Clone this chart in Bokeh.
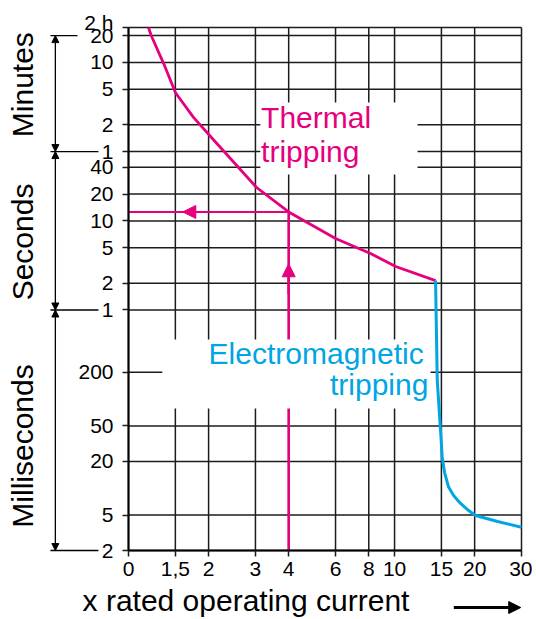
import math
from bokeh.plotting import figure
from bokeh.models import Range1d, FixedTicker, Label, Arrow, NormalHead, BoxAnnotation
from bokeh.embed import file_html
from bokeh.resources import INLINE

# ---------------- data ----------------
X_TICKS = [1, 1.5, 2, 3, 4, 6, 8, 10, 15, 20, 30]
X_TICK_LABELS = ["0", "1,5", "2", "3", "4", "6", "8", "10", "15", "20", "30"]

# tripping time in seconds
Y_TICKS = [0.002, 0.005, 0.02, 0.05, 0.2, 1, 2, 5, 10, 20, 40, 60, 120, 300, 600, 1200]
Y_TICK_LABELS = ["2", "5", "20", "50", "200", "1", "2", "5", "10", "20", "40",
                 "1", "2", "5", "10", "20"]
Y_TOP = 1480          # axis break, labelled "2 h"
Y_TOP_LABEL = "2 h"

THERMAL_X = [1.189, 1.217, 1.357, 1.502, 1.755, 2.05, 3.03, 4.0, 6.0, 8.12, 10.1, 14.26]
THERMAL_T = [1480, 1203, 579, 274, 145, 86.3, 23.7, 12.6, 6.34, 4.31, 3.08, 2.14]

ELECTRO_X = [14.26, 14.47, 14.89, 15.11, 15.42, 15.96, 16.67, 17.7, 18.98, 20.16, 24.39, 30]
ELECTRO_T = [2.14, 0.162, 0.0444, 0.0217, 0.0150, 0.0103, 0.00828, 0.00674, 0.00562,
             0.00494, 0.00423, 0.00365]

READ_X = 4        # example reading: 4 x rated current
READ_T = 12.6     # -> thermal tripping time

MAGENTA = "#E5007E"
BLUE = "#00A5E3"
GRID = "#1c1c1c"
FONT = "Liberation Sans"

# ---------------- layout (canvas pixels) ----------------
W, H = 532, 618
GRID_LEFT, GRID_RIGHT, GRID_TOP, GRID_BOTTOM = 128, 521, 27, 550
X_MIN, X_MAX = X_TICKS[0], X_TICKS[-1]
Y_MIN = Y_TICKS[0]
ppd_x = (GRID_RIGHT - GRID_LEFT) / math.log10(X_MAX / X_MIN)
ppd_y = (GRID_BOTTOM - GRID_TOP) / math.log10(Y_TOP / Y_MIN)
x_start = X_MIN * 10 ** (-GRID_LEFT / ppd_x)
x_end = X_MAX * 10 ** ((W - GRID_RIGHT) / ppd_x)
y_start = Y_MIN * 10 ** (-(H - GRID_BOTTOM) / ppd_y)
y_end = Y_TOP * 10 ** (GRID_TOP / ppd_y)

p = figure(width=W, height=H, x_axis_type="log", y_axis_type="log",
           x_range=Range1d(x_start, x_end), y_range=Range1d(y_start, y_end),
           output_backend="svg", toolbar_location=None,
           min_border=0, min_border_left=0, min_border_right=0,
           min_border_top=0, min_border_bottom=0)
p.background_fill_color = "white"
p.border_fill_color = "white"
p.outline_line_color = None
p.xgrid.visible = False
p.ygrid.visible = False

# grid drawn from the tick values
y_lines = Y_TICKS + [Y_TOP]
p.segment(x0=X_TICKS, y0=[Y_MIN] * len(X_TICKS), x1=X_TICKS, y1=[Y_TOP] * len(X_TICKS),
          line_color=GRID, line_width=1.5)
p.segment(x0=[X_MIN] * len(y_lines), y0=y_lines, x1=[X_MAX] * len(y_lines), y1=y_lines,
          line_color=GRID, line_width=1.5)

# axes fixed at the grid edges
p.xaxis.fixed_location = Y_MIN
p.xaxis.bounds = (X_MIN, X_MAX)
p.yaxis.fixed_location = X_MIN
p.yaxis.bounds = (Y_MIN, Y_TOP)
p.xaxis.ticker = FixedTicker(ticks=X_TICKS)
p.xaxis.major_label_overrides = dict(zip(X_TICKS, X_TICK_LABELS))
y_over = dict(zip(Y_TICKS, Y_TICK_LABELS))
y_over[Y_TOP] = ""
p.yaxis.ticker = FixedTicker(ticks=y_lines)
p.yaxis.major_label_overrides = y_over

for ax in (p.xaxis[0], p.yaxis[0]):
    ax.major_tick_out = 6
    ax.major_tick_in = 0
    ax.minor_tick_out = 0
    ax.minor_tick_in = 0
    ax.major_tick_line_color = GRID
    ax.major_tick_line_width = 1.5
    ax.axis_line_color = "black"
    ax.axis_line_width = 2
    ax.major_label_text_font = FONT
    ax.major_label_text_font_size = "21px"
    ax.major_label_text_color = "black"
p.xaxis.major_label_standoff = 5
p.yaxis.major_label_standoff = 9

# curves
p.line(THERMAL_X, THERMAL_T, line_color=MAGENTA, line_width=2.8)
p.line(ELECTRO_X, ELECTRO_T, line_color=BLUE, line_width=3)

# reading lines
p.line([READ_X, READ_X], [Y_MIN, READ_T], line_color=MAGENTA, line_width=2.6)
p.line([X_MIN, READ_X], [READ_T, READ_T], line_color=MAGENTA, line_width=2)
p.add_layout(Arrow(end=NormalHead(size=13, fill_color=MAGENTA, line_color=MAGENTA),
                   x_start=READ_X, y_start=1.5, x_end=READ_X, y_end=3.3,
                   line_color=MAGENTA, line_width=2.6))
p.add_layout(Arrow(end=NormalHead(size=13, fill_color=MAGENTA, line_color=MAGENTA),
                   x_start=2.6, y_start=READ_T, x_end=1.6, y_end=READ_T,
                   line_color=MAGENTA, line_width=2))

# white boxes behind the curve labels
p.add_layout(BoxAnnotation(left=3.13, right=12.2, top=213, bottom=33.2,
                           fill_color="white", fill_alpha=1, line_color=None))
p.add_layout(BoxAnnotation(left=1.34, right=13.66, top=0.467, bottom=0.0785,
                           fill_color="white", fill_alpha=1, line_color=None))

def lab(x, y, text, color="black", size="30px", align="left", angle=0):
    p.add_layout(Label(x=x, y=y, text=text, text_color=color, text_font=FONT,
                       text_font_size=size, text_align=align, text_baseline="middle",
                       angle=angle, angle_units="deg"))

lab(3.15, 142.8, "Thermal", MAGENTA)
lab(3.15, 60.8, "tripping", MAGENTA)
lab(2.0, 0.325, "Electromagnetic", BLUE)
lab(13.4, 0.144, "tripping", BLUE, align="right")

# y-axis unit labels
lab(0.401, 338, "Minutes", angle=90, align="center")
lab(0.401, 5.8, "Seconds", angle=90, align="center")
lab(0.401, 0.0298, "Milliseconds", angle=90, align="center")
lab(0.878, 1706, Y_TOP_LABEL, size="21px", align="right")

# x-axis title and arrow
lab(0.672, 0.000548, "x rated operating current")
p.add_layout(Arrow(end=NormalHead(size=12, fill_color="black", line_color="black"),
                   x_start=16.7, y_start=0.000458, x_end=29.8, y_end=0.000458,
                   line_color="black", line_width=3))

# unit range arrows at the left
XA = 0.531
for lo, hi in [(60, 1200), (1, 60), (Y_MIN, 1)]:
    p.add_layout(Arrow(start=NormalHead(size=7, fill_color="black"),
                       end=NormalHead(size=7, fill_color="black"),
                       x_start=XA, y_start=lo, x_end=XA, y_end=hi,
                       line_color="black", line_width=1.3))
for yv, xr in [(1200, 0.643), (60, 0.771), (1, 0.771), (Y_MIN, 0.771)]:
    p.add_layout(Arrow(start=None, end=None, x_start=0.509, y_start=yv, x_end=xr, y_end=yv,
                       line_color="black", line_width=1.3))

open("out.html", "w").write(file_html(p, INLINE))
